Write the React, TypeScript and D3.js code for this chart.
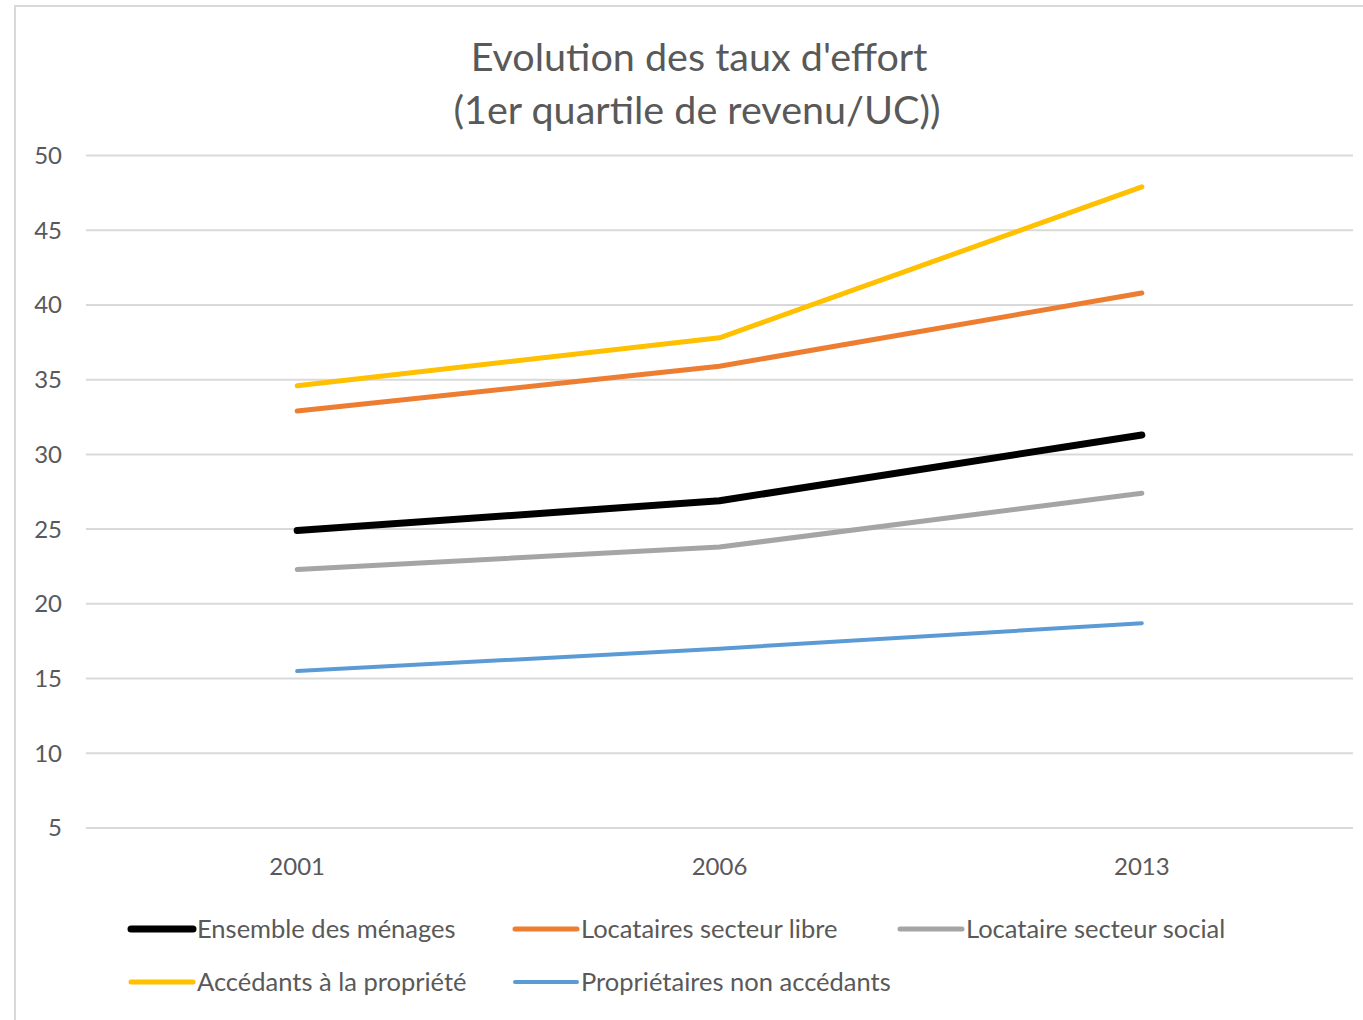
import React, { useEffect, useRef } from 'react';
import * as d3 from 'd3';

const years = ['2001', '2006', '2013'];
const yTicks = [5, 10, 15, 20, 25, 30, 35, 40, 45, 50];

const seriesNames = [
  'Ensemble des ménages',
  'Locataires secteur libre',
  'Locataire secteur social',
  'Accédants à la propriété',
  'Propriétaires non accédants',
];
const ensemble = [24.9, 26.9, 31.3];
const locLibre = [32.9, 35.9, 40.8];
const locSocial = [22.3, 23.8, 27.4];
const accedants = [34.6, 37.8, 47.9];
const proprietaires = [15.5, 17.0, 18.7];

const colors = ['#000000', '#ed7d31', '#a5a5a5', '#ffc000', '#5b9bd5'];
const widths = [7, 5, 5, 5, 4];

const App = () => {
  const ref = useRef(null);

  useEffect(() => {
    const W = 1363, H = 1020;
    const left = 86, right = 1353, top = 155.5, bottom = 828;
    const font = 'Lato, "Open Sans", sans-serif';
    const textColor = '#595959';

    const svg = d3.select(ref.current);
    svg.selectAll('*').remove();

    svg.append('rect').attr('width', W).attr('height', H).attr('fill', '#fff');
    // chart border
    svg.append('rect')
      .attr('x', 15).attr('y', 6)
      .attr('width', W + 10).attr('height', H + 10)
      .attr('fill', 'none').attr('stroke', '#d9d9d9').attr('stroke-width', 2);

    // title
    const title = svg.append('text')
      .attr('text-anchor', 'middle')
      .attr('font-family', font).attr('font-size', 39.5)
      .attr('fill', textColor);
    title.append('tspan').attr('x', 699).attr('y', 71).text("Evolution des taux d'effort");
    title.append('tspan').attr('x', 697).attr('y', 124).text('(1er quartile de revenu/UC))');

    const x = d3.scaleBand().domain(years).range([left, right]);
    const y = d3.scaleLinear().domain([5, 50]).range([bottom, top]);
    const cx = (d) => x(d) + x.bandwidth() / 2;

    // grid + y labels
    svg.append('g')
      .selectAll('line')
      .data(yTicks)
      .enter()
      .append('line')
      .attr('x1', left).attr('x2', right)
      .attr('y1', (d) => y(d)).attr('y2', (d) => y(d))
      .attr('stroke', '#d9d9d9').attr('stroke-width', 2);

    svg.append('g')
      .selectAll('text')
      .data(yTicks)
      .enter()
      .append('text')
      .attr('x', 62).attr('y', (d) => y(d))
      .attr('dy', '0.35em')
      .attr('text-anchor', 'end')
      .attr('font-family', font).attr('font-size', 24)
      .attr('fill', textColor)
      .text((d) => d);

    // x labels
    svg.append('g')
      .selectAll('text')
      .data(years)
      .enter()
      .append('text')
      .attr('x', (d) => cx(d)).attr('y', 875)
      .attr('text-anchor', 'middle')
      .attr('font-family', font).attr('font-size', 24)
      .attr('fill', textColor)
      .text((d) => d);

    const allSeries = [ensemble, locLibre, locSocial, accedants, proprietaires];
    const line = d3.line().x((d, i) => cx(years[i])).y((d) => y(d));

    // draw in z order: social, libre, accedants, proprietaires, ensemble on top
    [2, 1, 3, 4, 0].forEach((k) => {
      svg.append('path')
        .datum(allSeries[k])
        .attr('d', line)
        .attr('fill', 'none')
        .attr('stroke', colors[k])
        .attr('stroke-width', widths[k])
        .attr('stroke-linecap', 'round')
        .attr('stroke-linejoin', 'round');
    });

    // legend
    const legendPos = [
      [131, 929], [515, 929], [900, 929],
      [131, 982], [515, 982],
    ];
    seriesNames.forEach((name, k) => {
      const [lx, ly] = legendPos[k];
      const g = svg.append('g');
      g.append('line')
        .attr('x1', lx).attr('x2', lx + 62)
        .attr('y1', ly).attr('y2', ly)
        .attr('stroke', colors[k]).attr('stroke-width', widths[k])
        .attr('stroke-linecap', 'round');
      g.append('text')
        .attr('x', lx + 66).attr('y', ly)
        .attr('dy', '0.35em')
        .attr('font-family', font).attr('font-size', 25.5)
        .attr('fill', textColor)
        .text(name);
    });
  }, []);

  return (
    <svg
      ref={ref}
      width={1363}
      height={1020}
      style={{ position: 'absolute', left: 0, top: 0 }}
    />
  );
};

export default App;
